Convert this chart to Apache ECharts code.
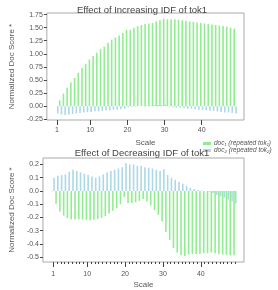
<!DOCTYPE html>
<html><head><meta charset="utf-8">
<script src="https://cdn.jsdelivr.net/npm/echarts@6/dist/echarts.min.js"></script>
<style>html,body{margin:0;padding:0;background:#fff}#c{width:278px;height:290px}</style>
</head><body><div id="c"></div>
<script>
// x positions (Scale)
const scale = [];
for (let i = 1; i <= 49; i++) scale.push(i);

// Top chart: Effect of Increasing IDF of tok1
const topDoc1 = [0.00,0.11,0.24,0.35,0.45,0.54,0.64,0.73,0.81,0.89,0.96,1.02,1.09,1.14,1.21,1.27,1.31,1.35,1.40,1.46,1.46,1.50,1.53,1.55,1.57,1.58,1.59,1.62,1.64,1.67,1.66,1.66,1.66,1.65,1.64,1.63,1.62,1.61,1.60,1.59,1.58,1.57,1.56,1.55,1.54,1.53,1.52,1.50,1.48];
const topDoc2 = [-0.14,-0.16,-0.17,-0.16,-0.15,-0.14,-0.13,-0.12,-0.115,-0.11,-0.10,-0.10,-0.09,-0.08,-0.08,-0.07,-0.07,-0.06,-0.05,-0.02,-0.01,-0.01,0.00,0.00,0.01,0.01,0.02,0.02,0.02,0.03,-0.01,-0.02,-0.03,-0.03,-0.04,-0.05,-0.05,-0.06,-0.07,-0.07,-0.08,-0.09,-0.09,-0.10,-0.11,-0.12,-0.12,-0.13,-0.14];

// Bottom chart: Effect of Decreasing IDF of tok1
const botDoc1 = [-0.003,-0.097,-0.155,-0.186,-0.205,-0.215,-0.215,-0.213,-0.215,-0.217,-0.22,-0.218,-0.212,-0.203,-0.19,-0.17,-0.15,-0.13,-0.10,-0.045,-0.09,-0.09,-0.085,-0.075,-0.06,-0.08,-0.11,-0.145,-0.18,-0.23,-0.31,-0.37,-0.43,-0.465,-0.485,-0.49,-0.48,-0.475,-0.475,-0.475,-0.47,-0.47,-0.465,-0.47,-0.475,-0.48,-0.48,-0.485,-0.485];
const botDoc2 = [0.10,0.115,0.12,0.125,0.145,0.16,0.15,0.14,0.13,0.12,0.11,0.10,0.11,0.125,0.14,0.15,0.16,0.17,0.18,0.21,0.20,0.20,0.19,0.19,0.18,0.175,0.17,0.16,0.15,0.165,0.12,0.10,0.085,0.07,0.055,0.04,0.025,0.015,0.008,0.003,0.0,-0.005,-0.015,-0.03,-0.04,-0.05,-0.065,-0.08,-0.095];

const xTicks = [1,10,20,30,40];
const topYTicks = [-0.25,0,0.25,0.5,0.75,1.0,1.25,1.5,1.75];
const botYTicks = [-0.5,-0.4,-0.3,-0.2,-0.1,0.0,0.1,0.2];

const titles = ['Effect of Increasing IDF of tok1','Effect of Decreasing IDF of tok1'];
const seriesNames = ['doc\u2081 (repeated tok\u2081)','doc\u2082 (repeated tok\u2082)'];
const colors = ['#90ee90','#add8e6'];

const txt = '#555';
const border = '#aaa';
const FONT = 'Liberation Sans, Arial, sans-serif';

function pairs(vals){ return vals.map((v,i)=>[scale[i], v]); }

const grids = [
  {left:29, top:13, width:215, height:107, show:true, borderColor:border, borderWidth:1, containLabel:false},
  {left:29, top:158, width:215, height:109, show:true, borderColor:border, borderWidth:1, containLabel:false}
];

function xAxisMain(g, margin, nameGap){
  return {type:'value', gridIndex:g, min:-1.7, max:51.4, position:'bottom',
    name:'Scale', nameLocation:'middle', nameGap:nameGap,
    nameTextStyle:{color:txt, fontSize:8, fontFamily:FONT},
    axisLine:{show:false, onZero:false}, splitLine:{show:false},
    axisTick:{show:true, customValues:xTicks, length:5, lineStyle:{color:'#444'}},
    axisLabel:{customValues:xTicks, color:txt, fontSize:7, fontFamily:FONT, margin:margin}};
}
function xAxisMinor(g){
  return {type:'value', gridIndex:g, min:-1.7, max:51.4, position:'bottom',
    axisLine:{show:false, onZero:false}, splitLine:{show:false},
    axisTick:{show:true, customValues:scale, length:2, lineStyle:{color:'#444'}},
    axisLabel:{show:false}};
}
function yAxis(g, mn, mx, ticks, dec){
  return {type:'value', gridIndex:g, min:mn, max:mx, position:'left',
    name:'Normalized Doc Score *', nameLocation:'middle', nameGap:21,
    nameTextStyle:{color:txt, fontSize:8, fontFamily:FONT},
    axisLine:{show:false, onZero:false}, splitLine:{show:false},
    axisTick:{show:true, customValues:ticks, length:3, lineStyle:{color:'#444'}},
    axisLabel:{customValues:ticks, color:txt, fontSize:7, fontFamily:FONT, margin:4,
      formatter:v=>v.toFixed(dec)}};
}

function barSeries(name, data, xi, yi, color){
  return {type:'bar', name:name, xAxisIndex:xi, yAxisIndex:yi, data:pairs(data),
    barWidth:1.6, barGap:'10%', itemStyle:{color:color}, silent:true, animation:false};
}

const option = {
  animation:false,
  textStyle:{fontFamily:FONT},
  title:[
    {text:titles[0], left:137, textAlign:'center', top:0, textStyle:{color:'#444', fontSize:9.5, fontWeight:'normal', fontFamily:FONT}},
    {text:titles[1], left:137, textAlign:'center', top:143, textStyle:{color:'#444', fontSize:9.5, fontWeight:'normal', fontFamily:FONT}}
  ],
  legend:{left:203, top:140, orient:'vertical', itemWidth:8, itemHeight:3, itemGap:0,
    icon:'rect', data:seriesNames, padding:0,
    textStyle:{color:txt, fontSize:6.5, fontStyle:'italic', fontFamily:FONT, padding:[0,0,0,-2]}},
  grid:grids,
  xAxis:[xAxisMain(0, 7, 19), xAxisMain(1, 9, 19), xAxisMinor(1)],
  yAxis:[yAxis(0,-0.265,1.78,topYTicks,2), yAxis(1,-0.536,0.249,botYTicks,1)],
  series:[
    barSeries(seriesNames[0], topDoc1, 0, 0, colors[0]),
    barSeries(seriesNames[1], topDoc2, 0, 0, colors[1]),
    barSeries(seriesNames[0], botDoc1, 1, 1, colors[0]),
    barSeries(seriesNames[1], botDoc2, 1, 1, colors[1])
  ]
};
const chart = echarts.init(document.getElementById('c'), null, {renderer:'canvas'});
chart.setOption(option);
</script></body></html>
